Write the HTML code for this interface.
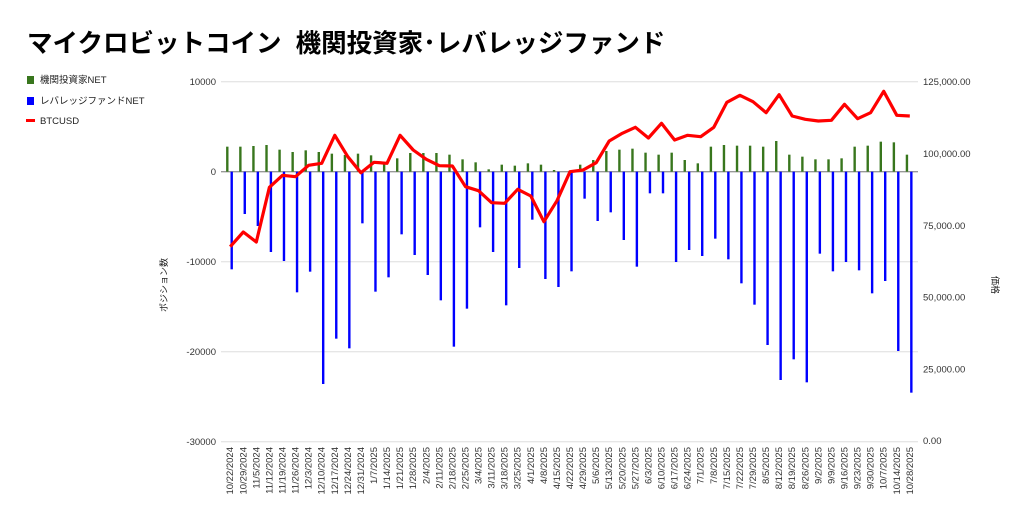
<!DOCTYPE html>
<html><head><meta charset="utf-8"><style>
body{margin:0;background:#fff;width:1024px;height:522px;overflow:hidden;font-family:"Liberation Sans","Noto Sans CJK JP",sans-serif}
</style></head><body>
<svg id="s" width="1024" height="522" xmlns="http://www.w3.org/2000/svg" font-family="Liberation Sans, Noto Sans CJK JP, sans-serif">
<text x="27" y="52" font-size="25.5" font-weight="bold" fill="#000" xml:space="preserve" style="white-space:pre">マイクロビットコイン&#160;&#160;機関投資家･レバレッジファンド</text>
<rect x="27" y="76" width="7" height="8" fill="#38761d"/>
<text x="40" y="83" font-size="9.5" fill="#222">機関投資家NET</text>
<rect x="27" y="97" width="7" height="8" fill="#0000ff"/>
<text x="40" y="104" font-size="9.5" fill="#222">レバレッジファンドNET</text>
<rect x="26" y="119" width="9" height="3" fill="#ff0000"/>
<text x="40" y="124" font-size="9.5" fill="#222">BTCUSD</text>
<g id="g"></g>
<text transform="translate(167,285) rotate(-90)" font-size="9" text-anchor="middle" fill="#222">ポジション数</text>
<text transform="translate(992,285) rotate(90)" font-size="9" text-anchor="middle" fill="#222">価格</text>
</svg>
<script>
var G=[230,230,228,225,239,246,241,246,251,255,251,256,283,265,249,249,249,254,268,277,298,284,287,280,284,300,305,284,270,243,239,236,248,254,248,270,280,230,225,227,227,230,213,254,260,268,268,265,230,227,215,217,254];
var B=[598,432,468,546,573,667,605,942,806,835,460,665,622,493,555,615,691,830,716,472,546,706,594,449,627,651,604,386,453,427,510,590,370,370,576,540,558,506,568,640,704,825,930,868,937,551,604,576,601,670,633,843,968];
var L=[530,486,516,352,316,320,286,280,196,260,308,277,280,196,240,268,287,288,350,362,398,400,358,378,455,392,305,300,278,213,190,172,204,160,210,196,200,172,97,76,95,128,74,138,148,153,151,103,146,128,64,136,138];
var D="10/22/2024,10/29/2024,11/5/2024,11/12/2024,11/19/2024,11/26/2024,12/3/2024,12/10/2024,12/17/2024,12/24/2024,12/31/2024,1/7/2025,1/14/2025,1/21/2025,1/28/2025,2/4/2025,2/11/2025,2/18/2025,2/25/2025,3/4/2025,3/11/2025,3/18/2025,3/25/2025,4/1/2025,4/8/2025,4/15/2025,4/22/2025,4/29/2025,5/6/2025,5/13/2025,5/20/2025,5/27/2025,6/3/2025,6/10/2025,6/17/2025,6/24/2025,7/1/2025,7/8/2025,7/15/2025,7/22/2025,7/29/2025,8/5/2025,8/12/2025,8/19/2025,8/26/2025,9/2/2025,9/9/2025,9/16/2025,9/23/2025,9/30/2025,10/7/2025,10/14/2025,10/28/2025".split(",");
var h='';
var ly=["10000","0","-10000","-20000","-30000"],ry=["125,000.00","100,000.00","75,000.00","50,000.00","25,000.00","0.00"];
for(var k=0;k<5;k++){var y=81.7+90*k;if(k!=1)h+='<line x1="221" x2="918" y1="'+y+'" y2="'+y+'" stroke="#ddd"/>';h+='<text x="216" y="'+(y+3.5)+'" font-size="9.5" text-anchor="end" fill="#333">'+ly[k]+'</text>';}
for(var k=0;k<6;k++){var y=81.7+71.8*k;h+='<text x="923" y="'+(y+3.5)+'" font-size="9.5" fill="#333">'+ry[k]+'</text>';}
h+='<line x1="221" x2="918" y1="171.7" y2="171.7" stroke="#999" stroke-width="1.3"/>';
var pts=[];
for(var i=0;i<53;i++){var x=231.7+i*13.07;var gy=70+G[i]/3,by=70+B[i]/3;
if(gy<171.7)h+='<rect x="'+(x-5.6)+'" y="'+gy+'" width="2.4" height="'+(171.7-gy)+'" fill="#38761d"/>';
h+='<rect x="'+(x-1.2)+'" y="171.7" width="2.4" height="'+(by-171.7)+'" fill="#0000ff"/>';
pts.push((x-1.5).toFixed(1)+','+(70+L[i]/3).toFixed(1));
h+='<text transform="translate('+(x+1.5)+',447) rotate(-90)" font-size="9.5" text-anchor="end" fill="#333">'+D[i]+'</text>';}
h+='<polyline points="'+pts.join(' ')+'" fill="none" stroke="#ff0000" stroke-width="3.2" stroke-linejoin="round"/>';
document.getElementById('g').innerHTML=h;
</script>
</body></html>
